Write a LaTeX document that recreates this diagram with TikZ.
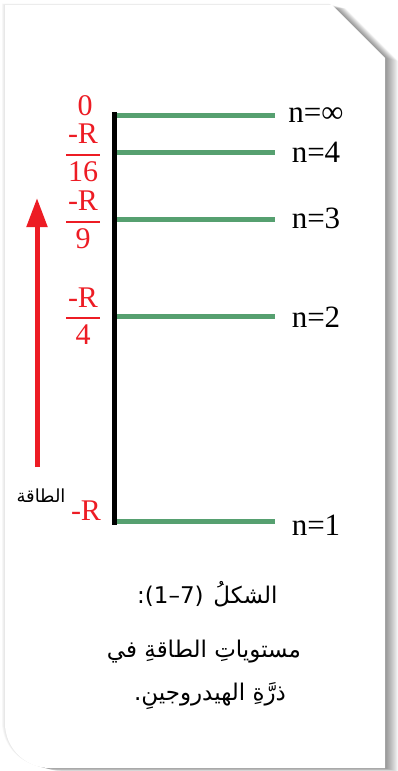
\documentclass[tikz,border=0pt]{standalone}
\usepackage{fontspec}
\setmainfont{Liberation Serif}
\newfontfamily\arabicfont[Script=Arabic]{DejaVu Sans}
\newfontfamily\plainsans{DejaVu Sans}
\TeXXeTstate=1
\usetikzlibrary{arrows.meta}

\definecolor{levelgreen}{RGB}{86,160,112}
\definecolor{energyred}{RGB}{237,28,36}

\newcommand{\cardpath}{(5,5) -- (332,5) -- (385,58) -- (385,768) -- (50,768) .. controls (25,768) and (5,748) .. (5,723) -- cycle}
\newcommand{\rfrac}[1]{$\displaystyle{\mbox{\kern2pt-R\kern2pt}\above 2pt\mbox{#1}}$}

\tikzset{
  level/.style={levelgreen, line width=5pt},
  nlabel/.style={anchor=base, font=\fontsize{31}{36}\selectfont},
  rlabel/.style={energyred, font=\fontsize{30}{34}\selectfont},
  caption/.style={anchor=base, font=\arabicfont\fontsize{23}{28}\selectfont}
}

\begin{document}
\begin{tikzpicture}[x=1pt, y=-1pt]
  \useasboundingbox (0,0) rectangle (398,771);

  % Card and its shadow
  \foreach \d in {1,...,13}
    \fill[black, opacity=0.04, shift={(\d,0.25*\d)}] \cardpath;
  \foreach \d in {1,2,3}
    \fill[black, opacity=0.03, shift={(-\d,-0.5*\d)}] \cardpath;
  \fill[white] \cardpath;

  % Energy axis
  \coordinate (axtop) at (114.5,112);
  \coordinate (axbot) at (114.5,525);
  \draw[line width=4.5pt] (axtop) -- (axbot);

  % Levels and their n labels
  \foreach \i/\y/\b/\lbl in {inf/115.5/122/∞, 4/152/162/4, 3/219.5/228/3, 2/316/327/2, 1/521.5/535/1} {
    \coordinate (l\i) at (117,\y);
    \coordinate (r\i) at (275,\y);
    \draw[level] (l\i) -- (r\i);
    \node[nlabel] (n\i) at (316,\b) {n=\lbl};
  }

  % Energy values
  \node[rlabel] (e0) at (85,106) {0};
  \foreach \d/\y in {16/153, 9/220, 4/316}
    \node[rlabel] (e\d) at (83,\y) {\rfrac{\d}};
  \node[rlabel, anchor=base] (e1) at (86,520) {-R};

  % Energy arrow
  \coordinate (arbot) at (37,467);
  \coordinate (artop) at (37,198);
  \draw[energyred, line width=5pt, -{Triangle[length=29pt, width=20pt]}] (arbot) -- (artop);
  \node[font=\arabicfont\fontsize{18}{20}\selectfont] (elbl) at (41,496) {\beginR الطاقة\endR};

  % Caption
  \node[caption, anchor=base east] (cap1b) at (281,603) {\beginR الشكلُ\endR};
  \node[anchor=base east, inner xsep=0pt, font=\plainsans\fontsize{23}{28}\selectfont] (cap1a) at (cap1b.base west) {:(1–7)\kern6pt};
  \node[caption] (cap2) at (204,657) {\beginR مستوياتِ الطاقةِ في\endR};
  \node[caption] (cap3) at (210,700) {\beginR ذرَّةِ الهيدروجينِ.\endR};
\end{tikzpicture}
\end{document}
